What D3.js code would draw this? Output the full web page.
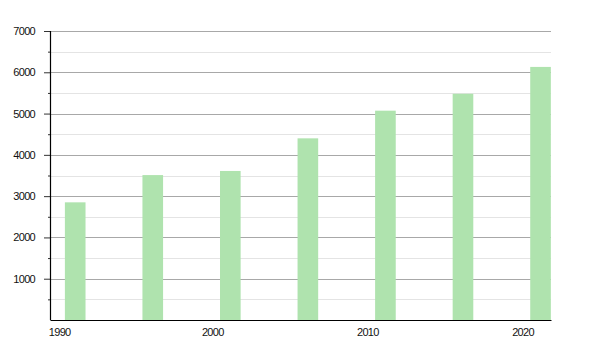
<!DOCTYPE html>
<html>
<head>
<meta charset="utf-8">
<script src="https://cdn.jsdelivr.net/npm/d3@7"></script>
<style>
  body { margin: 0; background: #fff; }
  svg text { font-family: "Liberation Sans", Arial, sans-serif; font-size: 11px; letter-spacing: -0.7px; fill: #111; }
</style>
</head>
<body>
<svg id="chart" width="600" height="350"></svg>
<script>
// data
var years = [1990, 1995, 2000, 2005, 2010, 2015, 2020];
var population = [2850, 3510, 3610, 4400, 5070, 5480, 6130];
var xTicks = [1990, 2000, 2010, 2020];
var yMajor = [1000, 2000, 3000, 4000, 5000, 6000, 7000];
var yMinor = [500, 1500, 2500, 3500, 4500, 5500, 6500];

var margin = {top: 31, right: 49, bottom: 30, left: 50},
    width = 600 - margin.left - margin.right,
    height = 350 - margin.top - margin.bottom;

var svg = d3.select("#chart");

var defs = svg.append("defs");
defs.append("filter").attr("id", "soft")
  .append("feGaussianBlur").attr("stdDeviation", 0.5);

var g = svg.append("g")
    .attr("transform", "translate(" + margin.left + "," + margin.top + ")");

var x = d3.scaleLinear().domain([1989.54, 2021.84]).range([0, width]);
var y = d3.scaleLinear().domain([0, 7000]).range([height, 0]);

// minor grid
g.selectAll(".minor").data(yMinor).enter().append("line")
    .attr("class", "minor")
    .attr("x1", 0).attr("x2", width)
    .attr("y1", function(d) { return Math.round(y(d)) + 0.5; })
    .attr("y2", function(d) { return Math.round(y(d)) + 0.5; })
    .attr("stroke", "#e4e4e4");

// major grid
g.selectAll(".major").data(yMajor).enter().append("line")
    .attr("class", "major")
    .attr("x1", 0).attr("x2", width)
    .attr("y1", function(d) { return Math.round(y(d)) + 0.5; })
    .attr("y2", function(d) { return Math.round(y(d)) + 0.5; })
    .attr("stroke", "#a8a8a8");

// bars
var barOffset = 0.5, barSpan = 1.33;
g.selectAll(".bar").data(years).enter().append("rect")
    .attr("class", "bar")
    .attr("x", function(d) { return x(d + barOffset); })
    .attr("width", function(d) { return x(d + barOffset + barSpan) - x(d + barOffset); })
    .attr("y", function(d, i) { return y(population[i]); })
    .attr("height", function(d, i) { return height - y(population[i]); })
    .attr("fill", "#afe3ae")
    .attr("filter", "url(#soft)");

// y axis, major and minor ticks
var yAxis = g.append("g")
    .call(d3.axisLeft(y).tickValues(yMajor).tickSize(6).tickPadding(8).tickFormat(d3.format("d")));
yAxis.select(".domain").remove();
yAxis.selectAll("line").attr("stroke", "#333");
yAxis.selectAll("text").attr("fill", "#111").attr("dx", "-1px");

var yMinorAxis = g.append("g")
    .call(d3.axisLeft(y).tickValues(yMinor).tickSize(2).tickFormat(""));
yMinorAxis.select(".domain").remove();
yMinorAxis.selectAll("line").attr("stroke", "#333");

g.append("line")
    .attr("x1", 0.5).attr("x2", 0.5)
    .attr("y1", 0).attr("y2", height)
    .attr("stroke", "#000").attr("stroke-width", 1.2);

// x axis
var xAxis = g.append("g")
    .attr("transform", "translate(0," + height + ")")
    .call(d3.axisBottom(x).tickValues(xTicks).tickSize(0).tickPadding(8).tickFormat(d3.format("d")));
xAxis.select(".domain").attr("stroke", "#000").attr("stroke-width", 1.2);
xAxis.selectAll("text")
    .attr("fill", "#111")
    .attr("dx", function(d) { return d === 1990 ? "2px" : 0; });
</script>
</body>
</html>
